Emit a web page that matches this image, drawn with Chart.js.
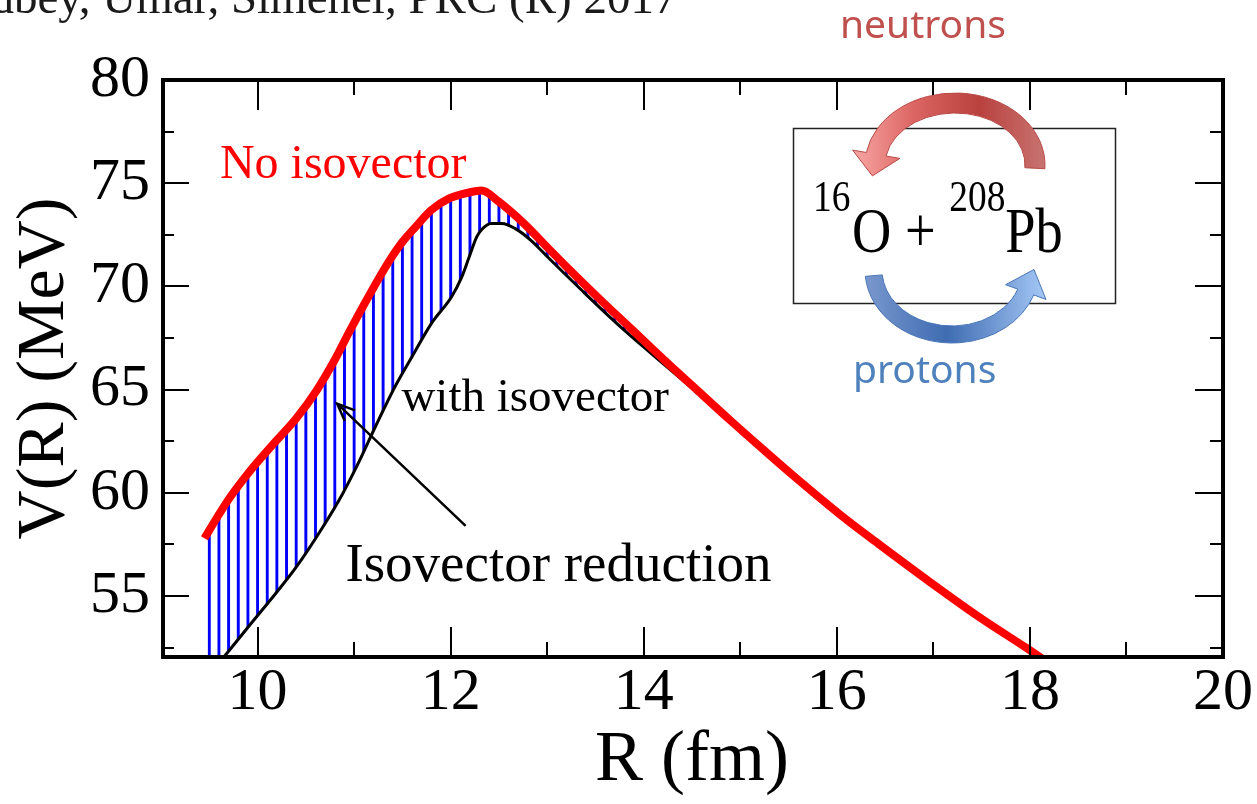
<!DOCTYPE html>
<html>
<head>
<meta charset="utf-8">
<script src="https://cdn.jsdelivr.net/npm/chart.js@4.4.1/dist/chart.umd.min.js"></script>
<style>
  html, body { margin: 0; padding: 0; background: #fff; }
  #wrap { width: 1257px; height: 804px; }
</style>
</head>
<body>
<div id="wrap"><canvas id="pot" width="1257" height="804"></canvas></div>
<script>
// 16O + 208Pb potential, V(R) in MeV against R in fm
const rNoIso = [9.45, 9.58, 9.71, 9.92, 10.16, 10.40, 10.61, 10.80, 10.95, 11.16, 11.36, 11.50, 11.64, 11.80, 11.98,
  12.19, 12.32, 12.50, 12.77, 13.01, 13.19, 13.53, 13.87, 14.22, 14.56, 14.90, 15.25, 15.52, 16.10, 16.44,
  16.96, 17.47, 17.96, 18.12];
const vNoIso = [57.8, 58.8, 59.75, 61.05, 62.35, 63.6, 64.95, 66.45, 67.8, 69.6, 71.2, 72.15, 72.9, 73.7, 74.25,
  74.55, 74.65, 74.1, 73.0, 71.85, 71.0, 69.45, 67.95, 66.4, 64.95, 63.5, 62.05, 60.95, 58.7, 57.5,
  55.7, 54.0, 52.5, 52.0];

// with isovector part; first point sits below the axis frame
const rIso = [9.45, 9.66, 9.92, 10.20, 10.40, 10.67, 10.88, 11.05, 11.23, 11.43, 11.60, 11.80, 12.01, 12.11,
  12.19, 12.27, 12.32, 12.42, 12.53, 12.67, 12.84, 13.01, 13.35, 13.70, 14.04, 14.38, 14.56, 14.90,
  15.25, 15.52, 16.10, 16.44, 16.96, 17.47, 17.96, 18.15];
const vIso = [50.9, 52.1, 53.6, 55.2, 56.4, 58.3, 59.95, 61.5, 63.3, 65.2, 66.6, 68.2, 69.5, 70.4,
  71.4, 72.4, 72.75, 73.05, 73.05, 72.8, 72.2, 71.4, 69.85, 68.3, 66.9, 65.55, 64.85, 63.42,
  61.98, 60.88, 58.63, 57.43, 55.63, 53.93, 52.43, 51.9];

const xTickLabels = [10, 12, 14, 16, 18, 20];
const xMinorTicks = [11, 13, 15, 17, 19];
const yTickLabels = [55, 60, 65, 70, 75, 80];
const yMinorTicks = [52.5, 57.5, 62.5, 67.5, 72.5, 77.5];
const hatchStart = 9.6;   // fm, first hatch line
const hatchStep = 0.1;    // fm between hatch lines

const serif = '"Liberation Serif", "Times New Roman", serif';

// vertical blue stripes lined up with the x scale
function hatchFill(context) {
  const chart = context.chart;
  if (!chart.chartArea) return 'rgba(0,0,0,0)';
  const xs = chart.scales.x;
  const x0 = xs.getPixelForValue(hatchStart);
  const step = xs.getPixelForValue(hatchStart + hatchStep) - x0;
  const tile = document.createElement('canvas');
  tile.width = 10;
  tile.height = 4;
  const t = tile.getContext('2d');
  t.fillStyle = '#0000ff';
  t.fillRect(0, 0, 3, 4);
  const pattern = chart.ctx.createPattern(tile, 'repeat');
  const k = step / 10;
  pattern.setTransform(new DOMMatrix([k, 0, 0, 1, x0 - 1.5 * k, 0]));
  return pattern;
}

function toPoints(xs, ys) {
  return xs.map((x, i) => ({ x: x, y: ys[i] }));
}

// curved band arrow along an ellipse, head at the end angle
function bandArrow(ctx, e, a0, a1, fill, edge) {
  const rad = Math.PI / 180;
  const t0 = a0 * rad, t1 = a1 * rad;
  const rxm = (e.rxOut + e.rxIn) / 2, rym = (e.ryOut + e.ryIn) / 2;
  const c = Math.cos(t1), s = Math.sin(t1);
  const outEnd = [e.cx + e.rxOut * c, e.cy + e.ryOut * s];
  const inEnd = [e.cx + e.rxIn * c, e.cy + e.ryIn * s];
  const mid = [e.cx + rxm * c, e.cy + rym * s];
  const dir = [s, -c];  // travel direction for decreasing angle
  const tip = [mid[0] + dir[0] * e.headLen, mid[1] + dir[1] * e.headLen];
  const wingOut = [outEnd[0] + c * e.wing, outEnd[1] + s * e.wing];
  const wingIn = [inEnd[0] - c * e.wing, inEnd[1] - s * e.wing];

  ctx.beginPath();
  ctx.ellipse(e.cx, e.cy, e.rxOut, e.ryOut, 0, t0, t1, true);
  ctx.lineTo(wingOut[0], wingOut[1]);
  ctx.lineTo(tip[0], tip[1]);
  ctx.lineTo(wingIn[0], wingIn[1]);
  ctx.lineTo(inEnd[0], inEnd[1]);
  ctx.ellipse(e.cx, e.cy, e.rxIn, e.ryIn, 0, t1, t0, false);
  ctx.closePath();
  ctx.fillStyle = fill;
  ctx.fill();
  ctx.lineWidth = 1;
  ctx.strokeStyle = edge;
  ctx.stroke();
}

const frameAndNotes = {
  id: 'frameAndNotes',
  afterDraw(chart) {
    const { ctx, chartArea: a, scales: { x, y } } = chart;
    ctx.save();

    // inward ticks on all four sides
    ctx.strokeStyle = '#000';
    ctx.lineWidth = 2;
    ctx.beginPath();
    const xTick = (v, len) => {
      const px = Math.round(x.getPixelForValue(v));
      ctx.moveTo(px, a.bottom); ctx.lineTo(px, a.bottom - len);
      ctx.moveTo(px, a.top); ctx.lineTo(px, a.top + len);
    };
    const yTick = (v, len) => {
      const py = Math.round(y.getPixelForValue(v));
      ctx.moveTo(a.left, py); ctx.lineTo(a.left + len, py);
      ctx.moveTo(a.right, py); ctx.lineTo(a.right - len, py);
    };
    xTickLabels.forEach(v => xTick(v, 30));
    xMinorTicks.forEach(v => xTick(v, 15));
    yTickLabels.forEach(v => yTick(v, 28));
    yMinorTicks.forEach(v => yTick(v, 13));
    ctx.stroke();

    // frame
    ctx.lineWidth = 4;
    ctx.strokeRect(a.left + 2, a.top, a.right - a.left - 2, a.bottom - a.top);

    // labels inside the plot
    ctx.textBaseline = 'alphabetic';
    ctx.textAlign = 'left';
    ctx.fillStyle = '#ff0000';
    ctx.font = '48px ' + serif;
    ctx.fillText('No isovector', x.getPixelForValue(9.61), y.getPixelForValue(75.24));
    ctx.fillStyle = '#000';
    ctx.font = '47px ' + serif;
    ctx.fillText('with isovector', x.getPixelForValue(11.49), y.getPixelForValue(63.98));
    ctx.font = '55px ' + serif;
    ctx.fillText('Isovector reduction', x.getPixelForValue(10.91), y.getPixelForValue(55.73));

    // pointer from the label to the hatched gap
    const tx = x.getPixelForValue(12.155), ty = y.getPixelForValue(58.4);
    const hx = x.getPixelForValue(10.825), hy = y.getPixelForValue(64.32);
    const ang = Math.atan2(ty - hy, tx - hx);
    ctx.strokeStyle = '#000';
    ctx.lineWidth = 2.5;
    ctx.beginPath();
    ctx.moveTo(tx, ty);
    ctx.lineTo(hx, hy);
    ctx.moveTo(hx + 19 * Math.cos(ang - 0.4), hy + 19 * Math.sin(ang - 0.4));
    ctx.lineTo(hx, hy);
    ctx.lineTo(hx + 19 * Math.cos(ang + 0.4), hy + 19 * Math.sin(ang + 0.4));
    ctx.stroke();

    // reference line at the top, partly off the left edge
    ctx.fillStyle = '#1a1a1a';
    ctx.font = '47px ' + serif;
    ctx.fillText('Godbey, Umar, Simenel, PRC (R) 2017', -67, 13);

    // reaction inset
    ctx.lineWidth = 1.5;
    ctx.strokeStyle = '#222';
    ctx.strokeRect(793.5, 128.5, 322, 175);

    // reaction formula, set in a condensed serif
    ctx.save();
    ctx.translate(813, 0);
    ctx.scale(0.85, 1);
    ctx.fillStyle = '#000';
    let px = 0;
    ctx.font = '44px ' + serif;
    ctx.fillText('16', px, 211);
    px += ctx.measureText('16').width + 2;
    ctx.font = '64px ' + serif;
    ctx.fillText('O + ', px, 252);
    px += ctx.measureText('O + ').width;
    ctx.font = '44px ' + serif;
    ctx.fillText('208', px, 211);
    px += ctx.measureText('208').width;
    ctx.font = '64px ' + serif;
    ctx.fillText('Pb', px, 252);
    ctx.restore();

    const red = ctx.createLinearGradient(855, 0, 1046, 0);
    red.addColorStop(0, '#f7a4a2');
    red.addColorStop(0.3, '#dc6663');
    red.addColorStop(0.65, '#b9413e');
    red.addColorStop(1, '#c87471');
    bandArrow(ctx, { cx: 955, cy: 165, rxOut: 90, rxIn: 70, ryOut: 72, ryIn: 52, headLen: 22, wing: 14 },
      3, -170, red, '#b84a47');

    const blue = ctx.createLinearGradient(864, 0, 1048, 0);
    blue.addColorStop(0, '#7a98cd');
    blue.addColorStop(0.45, '#3f6cb2');
    blue.addColorStop(1, '#a7caf7');
    bandArrow(ctx, { cx: 952, cy: 270, rxOut: 87, rxIn: 70, ryOut: 73, ryIn: 56, headLen: 24, wing: 13 },
      175, 20, blue, '#4a76b8');

    ctx.font = '39px "Noto Sans", sans-serif';
    ctx.fillStyle = '#c0504d';
    ctx.fillText('neutrons', 840, 38);
    ctx.fillStyle = '#4f81bd';
    ctx.fillText('protons', 853, 383);

    ctx.restore();
  }
};

const ctx = document.getElementById('pot').getContext('2d');
new Chart(ctx, {
  type: 'line',
  data: {
    datasets: [
      {
        label: 'No isovector',
        data: toPoints(rNoIso, vNoIso),
        borderColor: '#ff0000',
        borderWidth: 8,
        backgroundColor: hatchFill,
        fill: 1,
        pointRadius: 0,
        cubicInterpolationMode: 'monotone',
        borderCapStyle: 'butt',
        clip: 0
      },
      {
        label: 'with isovector',
        data: toPoints(rIso, vIso),
        borderColor: '#000000',
        borderWidth: 3,
        fill: false,
        pointRadius: 0,
        cubicInterpolationMode: 'monotone',
        clip: 0
      }
    ]
  },
  options: {
    responsive: false,
    animation: false,
    layout: { padding: { top: 80, right: 34, left: 0, bottom: 0 } },
    plugins: {
      legend: { display: false },
      tooltip: { enabled: false },
      filler: { drawTime: 'beforeDatasetsDraw' }
    },
    scales: {
      x: {
        type: 'linear',
        min: 9,
        max: 20,
        grid: { display: false, drawTicks: false },
        border: { display: false },
        afterBuildTicks: s => { s.ticks = xTickLabels.map(v => ({ value: v })); },
        afterFit: s => { s.height = 147; },
        ticks: { color: '#000', padding: 0, maxRotation: 0, font: { family: serif, size: 60 } },
        title: { display: true, text: 'R (fm)', color: '#000', padding: { top: 0, bottom: 0 }, font: { family: serif, size: 72 } }
      },
      y: {
        min: 52.05,
        max: 80,
        grid: { display: false, drawTicks: false },
        border: { display: false },
        afterBuildTicks: s => { s.ticks = yTickLabels.map(v => ({ value: v })); },
        afterFit: s => { s.width = 161; },
        ticks: { color: '#000', padding: 11, font: { family: serif, size: 60 } },
        title: { display: true, text: 'V(R) (MeV)', color: '#000', padding: { top: 4, bottom: 0 }, font: { family: serif, size: 68 } }
      }
    }
  },
  plugins: [frameAndNotes]
});
</script>
</body>
</html>
